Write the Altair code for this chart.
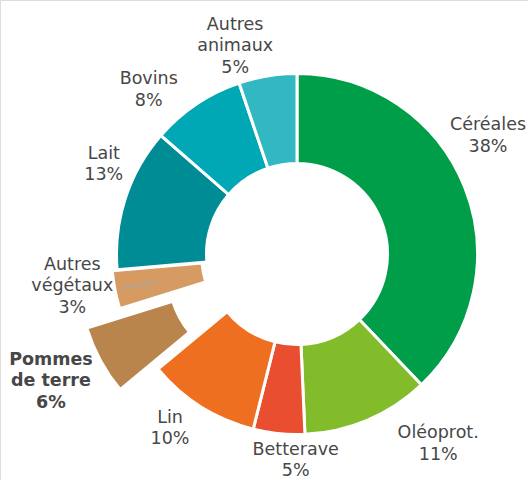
import altair as alt
import pandas as pd

# ---- data ----
CATEGORIES = ["Céréales", "Oléoprot.", "Betterave", "Lin", "Pommes de terre",
              "Autres végétaux", "Lait", "Bovins", "Autres animaux"]
LABELS = ["Céréales", "Oléoprot.", "Betterave", "Lin", "Pommes\nde terre",
          "Autres\nvégétaux", "Lait", "Bovins", "Autres\nanimaux"]
VALUES = [37.9, 11.4, 4.6, 10.1, 6.2, 3.4, 12.8, 8.4, 5.2]
COLORS = ["#009E48", "#83BC2B", "#E84E2F", "#EE6F1F", "#BA844D",
          "#D59B62", "#008C94", "#00A8B5", "#32B8C2"]

# ---- layout (not data) ----
CX, CY = 297, 254
R_OUT, R_IN = 180.5, 90.5
EXPLODE = {"Pommes de terre": 43, "Autres végétaux": 5}
LABEL_SHIFT_DEG = {"Céréales": -9.9, "Oléoprot.": -13.6, "Betterave": -5.4, "Lin": 3.8,
                   "Pommes de terre": 1.1, "Autres végétaux": 3.0, "Lait": 6.9,
                   "Bovins": -8.3, "Autres animaux": -7.2}
LABEL_R = {"Céréales": 224.5, "Oléoprot.": 236.6, "Betterave": 206.5, "Lin": 216,
           "Pommes de terre": 277, "Autres végétaux": 227, "Lait": 213,
           "Bovins": 221, "Autres animaux": 217}
LEADER = ("Autres végétaux", 143, 178)
FONT = "DejaVu Sans"
FONT_SIZE = 17.5
LINE_H = 21.5
TEXT_COLOR = "#474747"

df = pd.DataFrame({
    "cat": CATEGORIES,
    "label": LABELS,
    "value": VALUES,
    "order": list(range(len(CATEGORIES))),
    "explode": [EXPLODE.get(c, 0) for c in CATEGORIES],
    "lshift": [LABEL_SHIFT_DEG[c] for c in CATEGORIES],
    "lr": [LABEL_R[c] for c in CATEGORIES],
})

base = alt.Chart(df).transform_joinaggregate(
    total="sum(value)"
).transform_window(
    cum="sum(value)", sort=[alt.SortField("order")], frame=[None, 0]
).transform_calculate(
    t0="2*PI*(datum.cum-datum.value)/datum.total",
    t1="2*PI*datum.cum/datum.total",
).transform_calculate(
    mid="(datum.t0+datum.t1)/2",
).transform_calculate(
    cx=f"{CX}+datum.explode*sin(datum.mid)",
    cy=f"{CY}-datum.explode*cos(datum.mid)",
    la="datum.mid+datum.lshift*PI/180",
    txt="datum.label+'\\n'+format(datum.value,'.0f')+'%'",
).transform_calculate(
    nlines="length(split(datum.txt,'\\n'))",
).transform_calculate(
    lx=f"{CX}+datum.lr*sin(datum.la)",
    ly=f"{CY}-datum.lr*cos(datum.la)-(datum.nlines-1)*{LINE_H}/2",
    r1x=f"{CX}+{LEADER[1]}*sin(datum.mid)",
    r1y=f"{CY}-{LEADER[1]}*cos(datum.mid)",
    r2x=f"{CX}+{LEADER[2]}*sin(datum.mid)",
    r2y=f"{CY}-{LEADER[2]}*cos(datum.mid)",
)

arcs = base.mark_arc(innerRadius=R_IN, outerRadius=R_OUT, stroke="white", strokeWidth=3).encode(
    x=alt.X("cx:Q", scale=None, axis=None),
    y=alt.Y("cy:Q", scale=None, axis=None),
    theta=alt.Theta("t0:Q", scale=None),
    theta2=alt.Theta2("t1:Q"),
    color=alt.Color("cat:N", scale=alt.Scale(domain=CATEGORIES, range=COLORS), legend=None),
)

leader = base.transform_filter(alt.datum.cat == LEADER[0]).mark_rule(
    color="#A6A6A6", strokeWidth=1.5
).encode(
    x=alt.X("r1x:Q", scale=None, axis=None),
    y=alt.Y("r1y:Q", scale=None, axis=None),
    x2="r2x:Q",
    y2="r2y:Q",
)

text_kw = dict(font=FONT, fontSize=FONT_SIZE, color=TEXT_COLOR, align="center",
               baseline="middle", lineBreak="\n", lineHeight=LINE_H)

labels = base.transform_filter(alt.datum.cat != "Pommes de terre").mark_text(**text_kw).encode(
    x=alt.X("lx:Q", scale=None, axis=None),
    y=alt.Y("ly:Q", scale=None, axis=None),
    text="txt:N",
)
labels_bold = base.transform_filter(alt.datum.cat == "Pommes de terre").mark_text(
    fontWeight="bold", **text_kw
).encode(
    x=alt.X("lx:Q", scale=None, axis=None),
    y=alt.Y("ly:Q", scale=None, axis=None),
    text="txt:N",
)

chart = alt.layer(arcs, leader, labels, labels_bold).properties(
    width=528, height=480, autosize="none", padding=0
).configure_view(stroke=None).configure(background="white")

chart.save("out.html", embed_options={"renderer": "svg", "actions": False})
